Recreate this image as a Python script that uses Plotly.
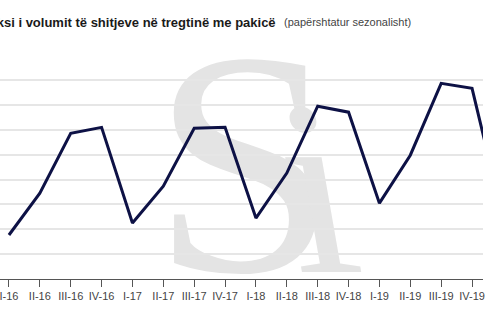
import base64
import plotly.graph_objects as go

quarters = ["I-16", "II-16", "III-16", "IV-16", "I-17", "II-17", "III-17", "IV-17",
            "I-18", "II-18", "III-18", "IV-18", "I-19", "II-19", "III-19", "IV-19", "I-20"]
values = [1.77, 3.45, 5.86, 6.10, 2.25, 3.73, 6.06, 6.10,
          2.45, 4.26, 6.95, 6.71, 3.05, 4.98, 7.87, 7.67, 2.49]
grid_ticks = [0, 1, 2, 3, 4, 5, 6, 7, 8, 9]

title_main = "Indeksi i volumit të shitjeve në tregtinë me pakicë"
title_note = "(papërshtatur sezonalisht)"

W, H = 485, 325
top, bottom = 55, 46

svg = f'''<svg xmlns="http://www.w3.org/2000/svg" width="{W}" height="{H - top - bottom}" viewBox="0 {top} {W} {H - top - bottom}" preserveAspectRatio="none">
<text transform="translate(152,271) scale(1.05,1)" font-family="Liberation Serif" font-size="320" fill="#e4e4e4">S</text>
<text transform="translate(298,272) skewX(10)" font-family="Liberation Serif" font-size="250" fill="#e4e4e4">i</text>
</svg>'''
src = "data:image/svg+xml;base64," + base64.b64encode(svg.encode("utf-8")).decode("ascii")

fig = go.Figure()
fig.add_trace(go.Scatter(
    x=list(range(len(quarters))), y=values, mode="lines",
    line=dict(color="#0d1145", width=3), hoverinfo="skip", showlegend=False,
))

font_sans = "Liberation Sans, Arial"

fig.update_layout(
    width=W, height=H,
    margin=dict(l=0, r=0, t=top, b=bottom, pad=0),
    paper_bgcolor="white", plot_bgcolor="rgba(0,0,0,0)",
    xaxis=dict(
        range=[-9 / 31, 476 / 31],
        tickmode="array", tickvals=list(range(len(quarters))), ticktext=quarters,
        tickangle=0, ticklabeloverflow="allow",
        showgrid=False, zeroline=False,
        showline=True, linecolor="#555555", linewidth=1,
        ticks="outside", ticklen=7, tickcolor="#555555", tickwidth=1,
        tickfont=dict(family=font_sans, size=11, color="#444444"),
    ),
    yaxis=dict(
        range=[0, 9.01], tickmode="array", tickvals=grid_ticks,
        showticklabels=False, showgrid=True, gridcolor="#e6e6e6", gridwidth=1.5,
        zeroline=False, showline=False,
    ),
    images=[dict(source=src, xref="paper", yref="paper", x=0, y=1,
                 sizex=1, sizey=1, xanchor="left", yanchor="top",
                 sizing="stretch", layer="below")],
    annotations=[
        dict(text="<b>" + title_main + "</b>", xref="paper", yref="paper",
             x=279 / W, y=1, yshift=33, xanchor="right", yanchor="middle",
             showarrow=False, font=dict(family=font_sans, size=13, color="#1a1a1a")),
        dict(text=title_note, xref="paper", yref="paper",
             x=283 / W, y=1, yshift=33, xanchor="left", yanchor="middle",
             showarrow=False, font=dict(family=font_sans, size=11, color="#444444")),
    ],
)

fig.write_html("out.html")
